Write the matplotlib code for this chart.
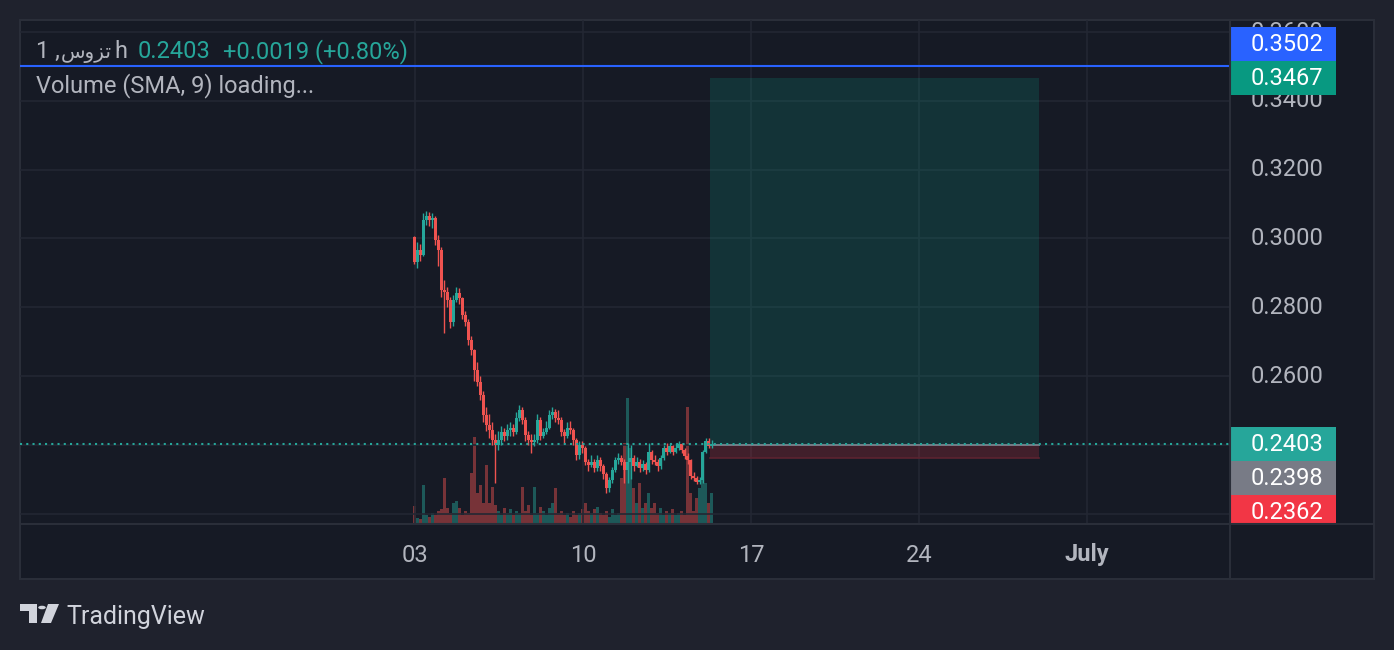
import numpy as np
import matplotlib.pyplot as plt
from matplotlib.patches import Rectangle, Polygon, Circle
from matplotlib.lines import Line2D

# Velas de 3 horas (open = cierre anterior)
primer_open = 0.3004
cierres = [
    0.2932, 0.2967, 0.2952, 0.3054, 0.3065, 0.3054, 0.3060, 0.2996, 0.2967, 0.2850,
    0.2844, 0.2821, 0.2757, 0.2821, 0.2841, 0.2827, 0.2777, 0.2757, 0.2705, 0.2676,
    0.2617, 0.2583, 0.2545, 0.2487, 0.2457, 0.2443, 0.2414, 0.2399, 0.2414, 0.2437,
    0.2425, 0.2443, 0.2449, 0.2437, 0.2478, 0.2501, 0.2472, 0.2428, 0.2414, 0.2408,
    0.2414, 0.2472, 0.2425, 0.2437, 0.2449, 0.2487, 0.2495, 0.2478, 0.2472, 0.2437,
    0.2425, 0.2449, 0.2443, 0.2414, 0.2370, 0.2399, 0.2391, 0.2350, 0.2341, 0.2350,
    0.2332, 0.2356, 0.2338, 0.2315, 0.2274, 0.2297, 0.2327, 0.2356, 0.2361, 0.2350,
    0.2327, 0.2350, 0.2361, 0.2338, 0.2350, 0.2332, 0.2344, 0.2327, 0.2379, 0.2356,
    0.2350, 0.2338, 0.2361, 0.2391, 0.2379, 0.2396, 0.2379, 0.2391, 0.2402, 0.2385,
    0.2367, 0.2356, 0.2309, 0.2303, 0.2292, 0.2297, 0.2379, 0.2411, 0.2396, 0.2403,
]
maximos = [
    0.3006, 0.2990, 0.2985, 0.3075, 0.3080, 0.3078, 0.3075, 0.3065, 0.3010, 0.2975,
    0.2880, 0.2860, 0.2830, 0.2835, 0.2860, 0.2855, 0.2830, 0.2790, 0.2765, 0.2715,
    0.2680, 0.2640, 0.2600, 0.2555, 0.2510, 0.2490, 0.2465, 0.2430, 0.2440, 0.2455,
    0.2450, 0.2460, 0.2465, 0.2460, 0.2495, 0.2515, 0.2510, 0.2480, 0.2440, 0.2430,
    0.2430, 0.2490, 0.2480, 0.2450, 0.2470, 0.2500, 0.2510, 0.2505, 0.2500, 0.2480,
    0.2445, 0.2465, 0.2470, 0.2450, 0.2420, 0.2410, 0.2410, 0.2395, 0.2360, 0.2370,
    0.2360, 0.2370, 0.2365, 0.2345, 0.2320, 0.2305, 0.2335, 0.2365, 0.2375, 0.2370,
    0.2360, 0.2405, 0.2400, 0.2370, 0.2365, 0.2360, 0.2355, 0.2350, 0.2405, 0.2385,
    0.2370, 0.2360, 0.2370, 0.2400, 0.2405, 0.2405, 0.2400, 0.2405, 0.2410, 0.2405,
    0.2390, 0.2375, 0.2360, 0.2320, 0.2310, 0.2305, 0.2385, 0.2420, 0.2420, 0.2415,
]
minimos = [
    0.2925, 0.2915, 0.2935, 0.2950, 0.3040, 0.3035, 0.3030, 0.2980, 0.2920, 0.2830,
    0.2725, 0.2800, 0.2740, 0.2745, 0.2815, 0.2810, 0.2765, 0.2745, 0.2690, 0.2660,
    0.2585, 0.2570, 0.2530, 0.2465, 0.2440, 0.2420, 0.2400, 0.2289, 0.2385, 0.2400,
    0.2410, 0.2415, 0.2425, 0.2425, 0.2430, 0.2470, 0.2460, 0.2410, 0.2400, 0.2375,
    0.2395, 0.2405, 0.2415, 0.2420, 0.2430, 0.2445, 0.2475, 0.2465, 0.2460, 0.2425,
    0.2405, 0.2420, 0.2430, 0.2400, 0.2355, 0.2360, 0.2375, 0.2340, 0.2325, 0.2335,
    0.2320, 0.2325, 0.2325, 0.2300, 0.2260, 0.2262, 0.2290, 0.2320, 0.2345, 0.2340,
    0.2290, 0.2290, 0.2300, 0.2325, 0.2335, 0.2320, 0.2325, 0.2315, 0.2320, 0.2345,
    0.2340, 0.2325, 0.2330, 0.2355, 0.2370, 0.2375, 0.2370, 0.2375, 0.2385, 0.2375,
    0.2360, 0.2345, 0.2300, 0.2295, 0.2285, 0.2285, 0.2290, 0.2375, 0.2390, 0.2390,
]
volumenes = [
    17, 5, 4, 38, 8, 6, 10, 8, 12, 14,
    45, 15, 10, 20, 22, 15, 8, 12, 10, 50,
    86, 30, 38, 20, 58, 20, 36, 18, 12, 8,
    15, 10, 14, 8, 12, 10, 36, 12, 18, 8,
    36, 10, 16, 12, 8, 15, 20, 35, 10, 12,
    8, 10, 6, 12, 8, 10, 14, 20, 12, 10,
    14, 16, 10, 8, 12, 6, 14, 8, 10, 45,
    80, 125, 75, 35, 20, 40, 15, 20, 30, 15,
    20, 10, 15, 8, 12, 10, 14, 8, 10, 12,
    8, 116, 30, 12, 25, 35, 50, 40, 20, 30,
]

# Herramienta de posicion larga (dias desde el 03)
pos_inicio, pos_fin = 12.29, 26.0
entrada, objetivo, stop = 0.2398, 0.3467, 0.2362
ultimo = 0.2403
alerta = 0.3502

ticks_precio = [0.22, 0.24, 0.26, 0.28, 0.30, 0.32, 0.34, 0.36]
ticks_dias = [0, 7, 14, 21, 28]
etiquetas_dias = ['03', '10', '17', '24', 'July']

# Colores
FONDO = '#1f222d'
PANEL = '#161a25'
BORDE = '#2a2e39'
REJILLA = '#232733'
TEXTO = '#b2b5be'
SUBE = '#26a69a'
BAJA = '#ef5350'

plt.rcParams['font.family'] = ['Roboto', 'DejaVu Sans']

W, H = 1394, 650
fig = plt.figure(figsize=(W / 100, H / 100), dpi=100, facecolor=FONDO)


def caja(l, t, r, b):
    return [l / W, 1 - b / H, (r - l) / W, (b - t) / H]


# Marco general
marco = fig.add_axes(caja(20, 20, 1374, 579))
marco.set_facecolor(PANEL)
marco.set_xticks([])
marco.set_yticks([])
for s in marco.spines.values():
    s.set_color(BORDE)
    s.set_linewidth(1.5)
fig.add_artist(Line2D([1230 / W, 1230 / W], [1 - 579 / H, 1 - 20 / H], color=BORDE, lw=1.5))
fig.add_artist(Line2D([20 / W, 1374 / W], [1 - 524 / H, 1 - 524 / H], color=BORDE, lw=1.5))

# Panel principal
ax = fig.add_axes(caja(20, 20, 1230, 523))
ax.patch.set_visible(False)
for s in ax.spines.values():
    s.set_visible(False)
ax.set_xlim(-16.458, 33.958)
ax.set_ylim(0.21724, 0.36356)
ax.set_xticks([])
ax.set_yticks([])

for p in ticks_precio:
    ax.axhline(p, color=REJILLA, lw=1.2, zorder=0)
for d in ticks_dias:
    ax.axvline(d, color=REJILLA, lw=1.2, zorder=0)

n = len(cierres)
horas = -2 + 3 * np.arange(n)
centros = (horas + 1.5) / 24
aperturas = [primer_open] + cierres[:-1]
colores = [SUBE if c >= o else BAJA for o, c in zip(aperturas, cierres)]

# Volumen superpuesto
vax = ax.twinx()
vax.set_ylim(0, max(volumenes) * 503 / 125)
vax.set_yticks([])
for s in vax.spines.values():
    s.set_visible(False)
vax.bar(centros, volumenes, width=0.11, color=colores, alpha=0.45, lw=0, zorder=1)

# Velas
ax.vlines(centros, minimos, maximos, colors=colores, lw=1, zorder=4)
bases = [min(o, c) for o, c in zip(aperturas, cierres)]
altos = [max(abs(c - o), 0.00008) for o, c in zip(aperturas, cierres)]
ax.bar(centros, altos, bottom=bases, width=0.1, color=colores, lw=0, zorder=4)
ax.set_zorder(vax.get_zorder() + 1)

# Posicion larga
ax.add_patch(Rectangle((pos_inicio, entrada), pos_fin - pos_inicio, objetivo - entrada,
                       facecolor='#089981', alpha=0.2, lw=0, zorder=2))
ax.add_patch(Rectangle((pos_inicio, stop), pos_fin - pos_inicio, entrada - stop,
                       facecolor='#f23645', alpha=0.2, lw=0, zorder=2))
ax.plot([pos_inicio, pos_fin], [entrada, entrada], color='#787b86', lw=1.4, zorder=3)
ax.plot([pos_inicio, pos_fin], [stop, stop], color='#5c2330', lw=1.2, zorder=3)

# Lineas horizontales
ax.axhline(alerta, color='#2962ff', lw=1.5, zorder=5)
ax.axhline(ultimo, color=SUBE, lw=1.5, linestyle=(0, (1, 2)), zorder=5)

# Eje de tiempo
for d, lab in zip(ticks_dias, etiquetas_dias):
    ax.text(d, -38.5 / 503, lab, transform=ax.get_xaxis_transform(), ha='center',
            va='baseline', color=TEXTO, fontsize=17,
            fontweight='bold' if lab == 'July' else 'normal', clip_on=False)

# Escala de precios
pax = fig.add_axes(caja(1230, 20, 1374, 523))
pax.patch.set_visible(False)
for s in pax.spines.values():
    s.set_visible(False)
pax.set_xlim(0, 144)
pax.set_ylim(ax.get_ylim())
pax.set_xticks([])
pax.set_yticks([])
for p in ticks_precio:
    pax.text(57, p, f'{p:.4f}', ha='center', va='center', color=TEXTO, fontsize=17)

alto_caja = 34 / 3437.5
etiquetas = [(objetivo, '#089981'), (objetivo + alto_caja, '#2962ff')]
etiquetas += [(ultimo, SUBE), (ultimo - alto_caja, '#787b86'), (ultimo - 2 * alto_caja, '#f23645')]
valores = [objetivo, alerta, ultimo, entrada, stop]
for (yc, col), v in zip(etiquetas, valores):
    pax.add_patch(Rectangle((0, yc - alto_caja / 2), 106, alto_caja, facecolor=col, lw=0, zorder=3))
    pax.text(57, yc - 0.0003, f'{v:.4f}', ha='center', va='center', color='white', fontsize=17, zorder=4)

# Leyenda
fig.text(36 / W, 1 - 58 / H, '1 ,', color=TEXTO, fontsize=17, va='baseline')
fig.text(61 / W, 1 - 58 / H, '\ufeb1\ufeed\ufeb0\ufe97', color=TEXTO, fontsize=14.5, va='baseline')
fig.text(114 / W, 1 - 58 / H, 'h', color=TEXTO, fontsize=17, va='baseline')
fig.text(138 / W, 1 - 58 / H, '0.2403', color=SUBE, fontsize=17, va='baseline')
fig.text(223 / W, 1 - 58 / H, '+0.0019 (+0.80%)', color=SUBE, fontsize=17, va='baseline')
fig.text(36 / W, 1 - 92 / H, 'Volume (SMA, 9) loading...', color=TEXTO, fontsize=17, va='baseline')

# Logo TradingView
def fp(x, y):
    return (x / W, 1 - y / H)


logo = '#d1d4dc'
fig.add_artist(Polygon([fp(20, 604), fp(37, 604), fp(37, 623), fp(29, 623), fp(29, 611), fp(20, 611)],
                       closed=True, facecolor=logo, lw=0, transform=fig.transFigure))
fig.add_artist(Polygon([fp(48, 604), fp(59, 604), fp(51, 623), fp(41, 623)],
                       closed=True, facecolor=logo, lw=0, transform=fig.transFigure))
fig.add_artist(Circle(fp(42, 607.5), 3.8 / W, facecolor=logo, lw=0, transform=fig.transFigure))
fig.text(66 / W, 1 - 624 / H, 'TradingView', color=logo, fontsize=18, va='baseline')

plt.savefig('out.png', dpi=100, facecolor=FONDO)
